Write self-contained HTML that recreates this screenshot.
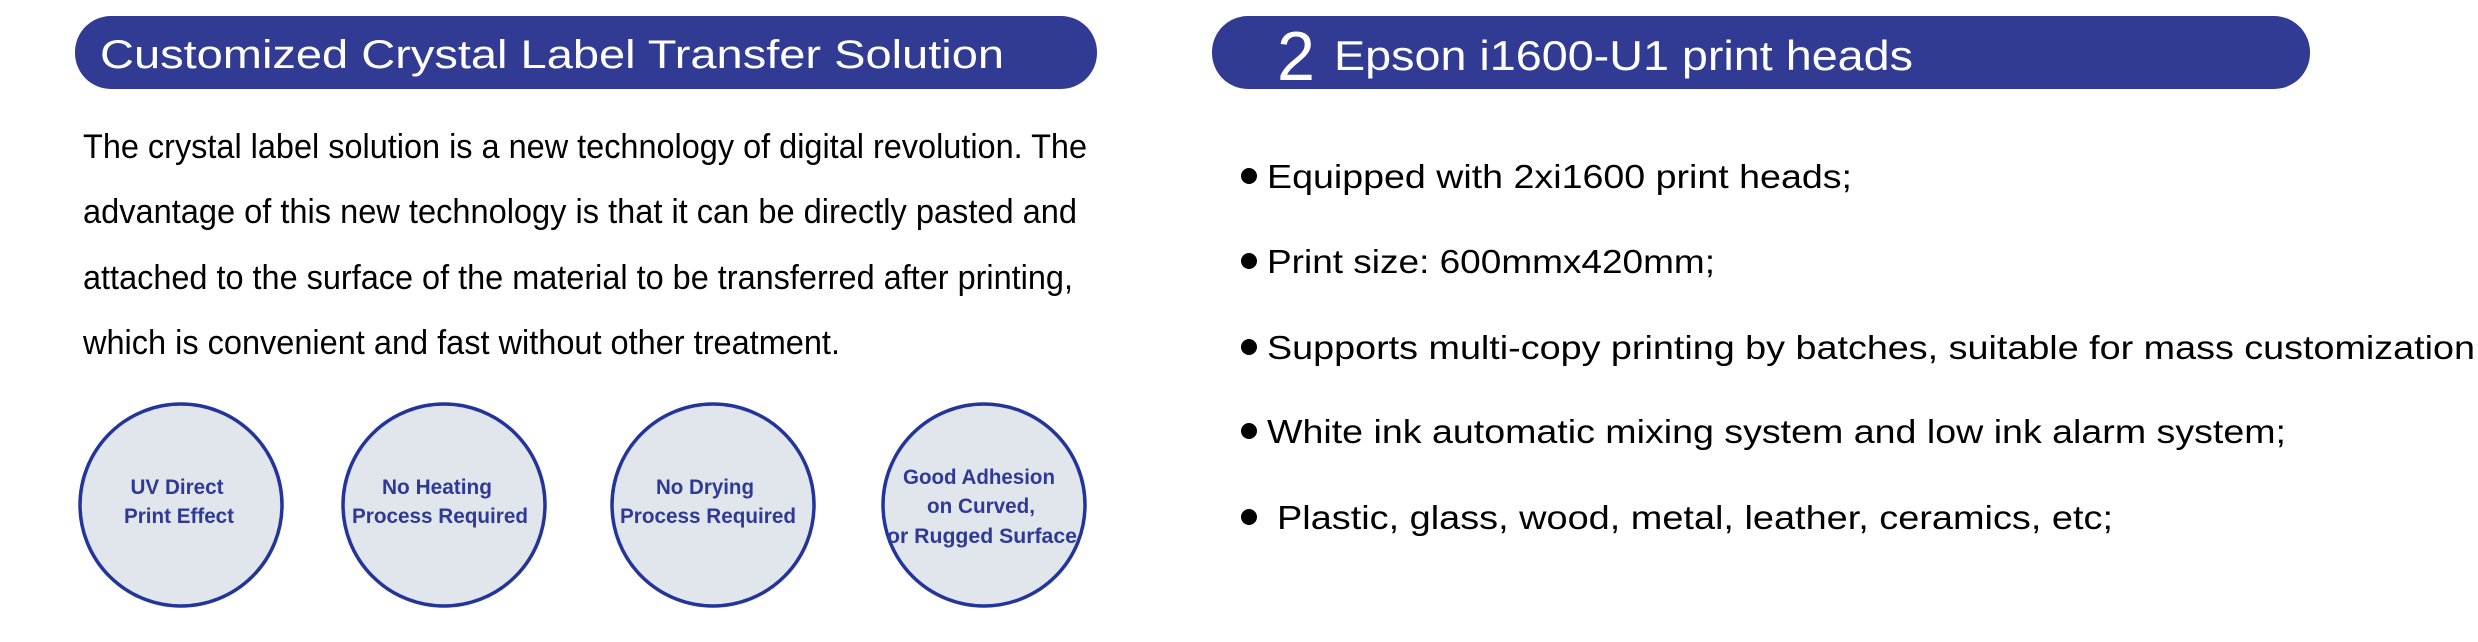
<!DOCTYPE html>
<html><head><meta charset="utf-8"><style>
html,body{margin:0;padding:0;background:#fff;}
svg{display:block;}
text{font-family:"Liberation Sans",sans-serif;}
</style></head><body>
<svg width="2478" height="642" viewBox="0 0 2478 642" xmlns="http://www.w3.org/2000/svg">
<rect width="2478" height="642" fill="#fff"/>
<rect x="75" y="16" width="1022" height="73" rx="36" fill="#323b93"/>
<text x="100" y="68" font-size="40" fill="#fff" textLength="904" lengthAdjust="spacingAndGlyphs">Customized Crystal Label Transfer Solution</text>
<g font-size="34" fill="#000">
<text x="83" y="158" textLength="1004" lengthAdjust="spacingAndGlyphs">The crystal label solution is a new technology of digital revolution. The</text>
<text x="83" y="223" textLength="994" lengthAdjust="spacingAndGlyphs">advantage of this new technology is that it can be directly pasted and</text>
<text x="83" y="289" textLength="990" lengthAdjust="spacingAndGlyphs">attached to the surface of the material to be transferred after printing,</text>
<text x="83" y="354" textLength="757" lengthAdjust="spacingAndGlyphs">which is convenient and fast without other treatment.</text>
</g>
<g fill="#e1e5ec" stroke="#23349a" stroke-width="3.5">
<circle cx="181" cy="505" r="101"/>
<circle cx="444" cy="505" r="101"/>
<circle cx="713" cy="505" r="101"/>
<circle cx="984" cy="505" r="101"/>
</g>
<g font-size="21" font-weight="bold" fill="#2e3a96" text-anchor="middle">
<text x="177" y="494" textLength="93" lengthAdjust="spacingAndGlyphs">UV Direct</text>
<text x="179" y="523" textLength="110" lengthAdjust="spacingAndGlyphs">Print Effect</text>
<text x="437" y="494" textLength="110" lengthAdjust="spacingAndGlyphs">No Heating</text>
<text x="440" y="523" textLength="176" lengthAdjust="spacingAndGlyphs">Process Required</text>
<text x="705" y="494" textLength="98" lengthAdjust="spacingAndGlyphs">No Drying</text>
<text x="708" y="523" textLength="176" lengthAdjust="spacingAndGlyphs">Process Required</text>
<text x="979" y="484" textLength="152" lengthAdjust="spacingAndGlyphs">Good Adhesion</text>
<text x="981" y="513" textLength="108" lengthAdjust="spacingAndGlyphs">on Curved,</text>
<text x="982" y="543" textLength="190" lengthAdjust="spacingAndGlyphs">or Rugged Surface</text>
</g>
<rect x="1212" y="16" width="1098" height="73" rx="36" fill="#323b93"/>
<text x="1277" y="80" font-size="70" fill="#fff" textLength="38" lengthAdjust="spacingAndGlyphs">2</text>
<text x="1334" y="70" font-size="42" fill="#fff" textLength="579" lengthAdjust="spacingAndGlyphs">Epson i1600-U1 print heads</text>
<g fill="#000">
<circle cx="1249" cy="176" r="8"/>
<circle cx="1249" cy="261" r="8"/>
<circle cx="1249" cy="347" r="8"/>
<circle cx="1249" cy="431" r="8"/>
<circle cx="1249" cy="517" r="8"/>
</g>
<g font-size="33" fill="#000">
<text x="1267" y="188" textLength="585" lengthAdjust="spacingAndGlyphs">Equipped with 2xi1600 print heads;</text>
<text x="1267" y="273" textLength="448" lengthAdjust="spacingAndGlyphs">Print size: 600mmx420mm;</text>
<text x="1267" y="359" textLength="1208" lengthAdjust="spacingAndGlyphs">Supports multi-copy printing by batches, suitable for mass customization</text>
<text x="1267" y="443" textLength="1019" lengthAdjust="spacingAndGlyphs">White ink automatic mixing system and low ink alarm system;</text>
<text x="1277" y="529" textLength="836" lengthAdjust="spacingAndGlyphs">Plastic, glass, wood, metal, leather, ceramics, etc;</text>
</g>
</svg>
</body></html>
